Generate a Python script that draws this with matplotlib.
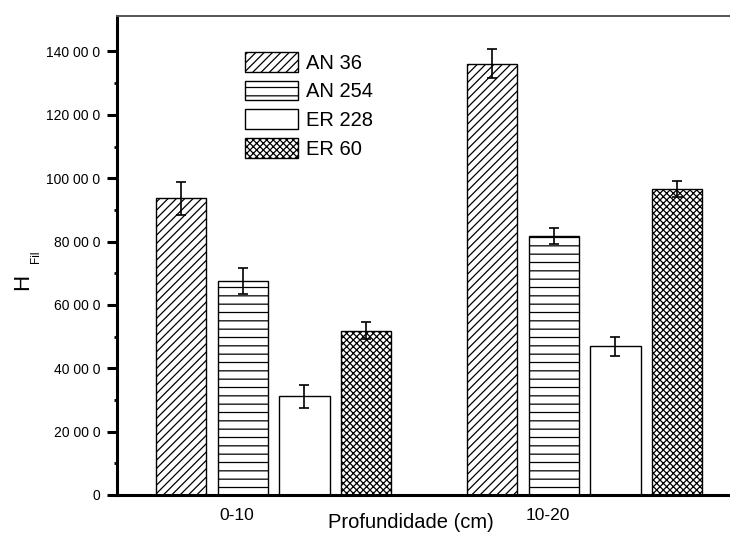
import numpy as np
import matplotlib
matplotlib.use("Agg")
import matplotlib.pyplot as plt

# Dados
grupos = ['0-10', '10-20']
series = ['AN 36', 'AN 254', 'ER 228', 'ER 60']
AN36 = [93600, 136200]
AN36_err = [5100, 4700]
AN254 = [67600, 81800]
AN254_err = [4100, 2600]
ER228 = [31100, 46900]
ER228_err = [3700, 2900]
ER60 = [51800, 96600]
ER60_err = [2700, 2400]
yticks = [0, 20000, 40000, 60000, 80000, 100000, 120000, 140000]
ytick_labels = ['0', '20 00 0', '40 00 0', '60 00 0', '80 00 0', '100 00 0', '120 00 0', '140 00 0']

valores = [AN36, AN254, ER228, ER60]
erros = [AN36_err, AN254_err, ER228_err, ER60_err]
hachuras = ['////', '--', '', 'xxxxx']

plt.rcParams['font.family'] = ['Liberation Sans', 'DejaVu Sans']
plt.rcParams['hatch.linewidth'] = 0.9

fig = plt.figure(figsize=(7.3, 5.38), dpi=100)
ax = fig.add_axes([117/730, 1-495/538, 1-117/730, (495-16)/538])

x = np.arange(len(grupos))
largura = 0.161
passo = 0.1984
inicio = -0.18

for i in range(len(series)):
    ax.bar(x + inicio + i*passo, valores[i], largura, yerr=erros[i],
           color='white', edgecolor='black', linewidth=1.0, hatch=hachuras[i],
           label=series[i],
           error_kw=dict(ecolor='black', elinewidth=1.2, capsize=3.6, capthick=1.2))

ax.set_xlim(-0.386, 1.585)
ax.set_ylim(0, 151200)

ax.set_xticks(x)
ax.set_xticklabels(grupos, fontsize=12.5)
ax.tick_params(axis='x', length=0, pad=9.5)

ax.set_yticks(yticks)
ax.set_yticklabels(ytick_labels, fontsize=10)
ax.set_yticks(np.arange(10000, 150000, 20000), minor=True)
ax.tick_params(axis='y', which='major', length=7, width=2.2, pad=5)
ax.tick_params(axis='y', which='minor', length=2.5, width=2)

ax.spines['right'].set_visible(False)
ax.spines['left'].set_linewidth(2.2)
ax.spines['bottom'].set_linewidth(2.2)
ax.spines['top'].set_linewidth(1.4)
ax.spines['top'].set_color('#555555')

fig.text(411/730, 1-522/538, 'Profundidade (cm)', fontsize=14.5, ha='center', va='center')
fig.text(23/730, 1-282/538, 'H', fontsize=16, rotation=90, ha='center', va='center')
fig.text(36/730, 1-257/538, 'Fil', fontsize=8.5, rotation=90, ha='center', va='center')

ax.legend(loc='upper left', bbox_to_anchor=(245/730, 1-52/538), bbox_transform=fig.transFigure,
          frameon=False, fontsize=14.5, handlelength=2.64, handleheight=1.12,
          handletextpad=0.4, labelspacing=0.4, borderpad=0, borderaxespad=0)

fig.savefig('out.png', dpi=100)
